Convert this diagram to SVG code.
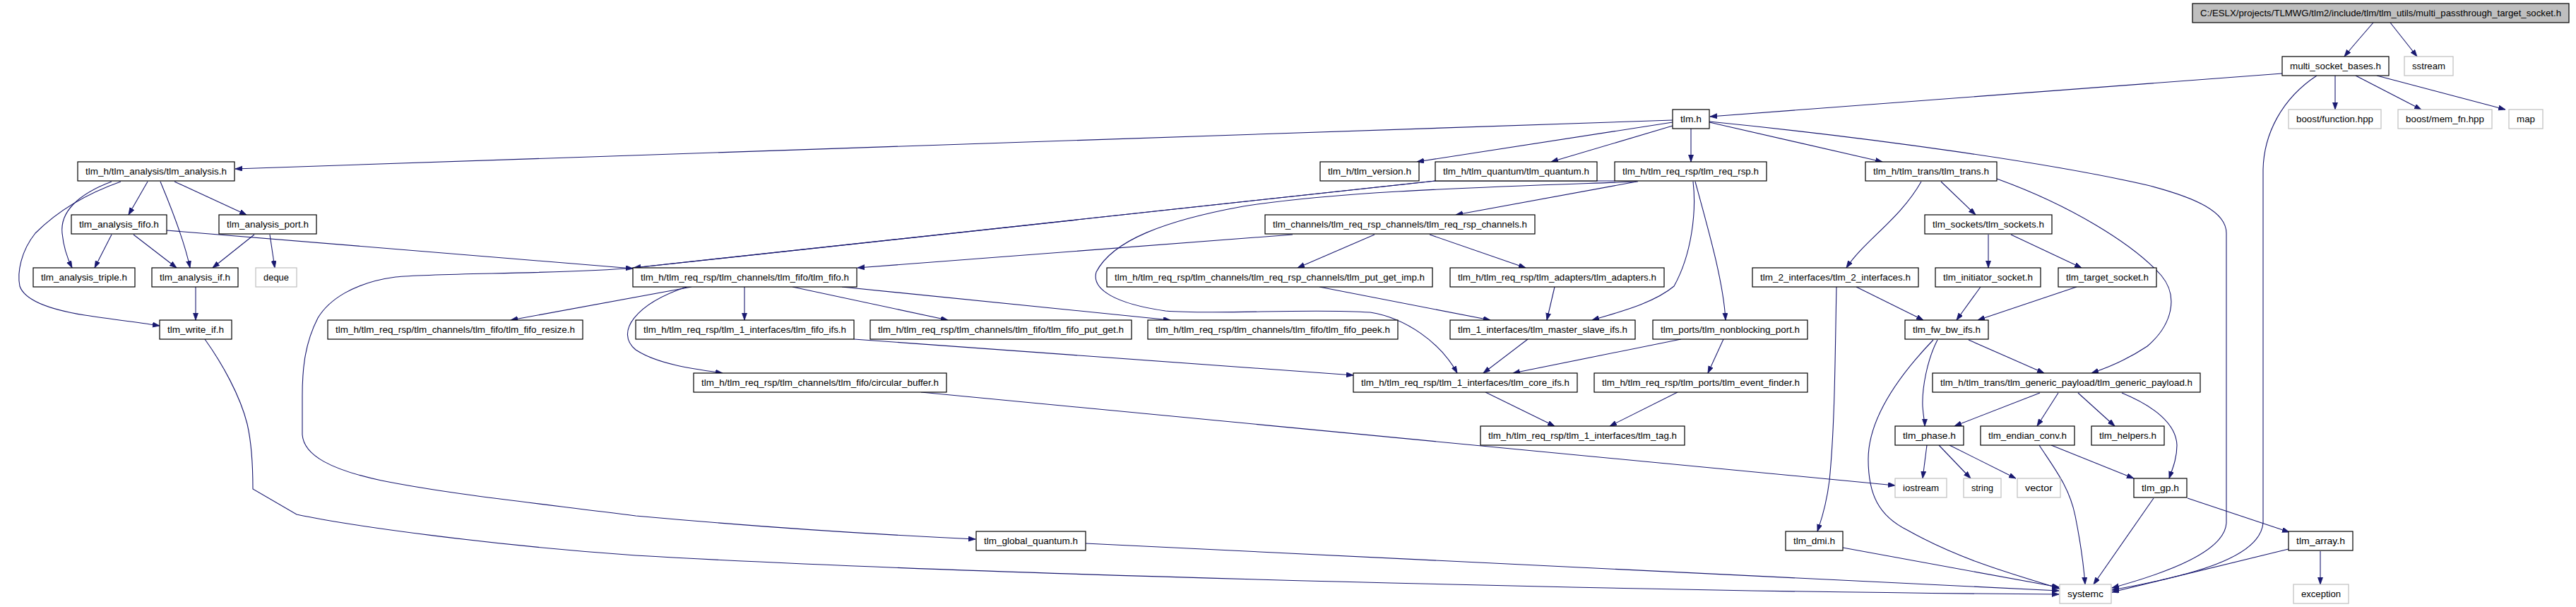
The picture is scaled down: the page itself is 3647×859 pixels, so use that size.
<svg xmlns="http://www.w3.org/2000/svg" width="3647" height="859" viewBox="0 0 3647 859">
<style>
.n rect{fill:#ffffff;stroke:#000000;stroke-width:1.2}
.g rect{fill:#ffffff;stroke:#bfbfbf;stroke-width:1.2}
.r rect{fill:#bfbfbf;stroke:#000000;stroke-width:1.2}
text{font-family:"Liberation Sans",Arial,Helvetica,sans-serif;font-size:13.5px;fill:#000000;text-anchor:middle}
#edges path{fill:none;stroke:#191970;stroke-width:1.1;marker-end:url(#ah)}
</style>
<defs>
<marker id="ah" markerUnits="userSpaceOnUse" markerWidth="11" markerHeight="8" refX="10" refY="3.5" orient="auto">
<path d="M0,0 L10,3.5 L0,7 z" fill="#191970" stroke="#191970" stroke-width="0.8"/>
</marker>
</defs>
<rect x="0" y="0" width="3647" height="859" fill="#ffffff"/>
<g id="edges">
<path d="M3360,32 C3348,46 3332,64 3319,80"/>
<path d="M3384,32 L3422,80"/>
<path d="M3231,104 L2421,165"/>
<path d="M3306,107 L3306,155"/>
<path d="M3335,107 L3428,155"/>
<path d="M3365,107 L3547,155"/>
<path d="M3280,107 C3230,140 3205,190 3204,240 L3204,740 C3200,790 3100,815 2990,835"/>
<path d="M2368,170 L333,239"/>
<path d="M2368,173 L2006,229"/>
<path d="M2368,178 L2196,229"/>
<path d="M2394,182 L2394,229"/>
<path d="M2420,173 L2665,229"/>
<path d="M2420,172 C2650,195 2900,230 3040,262 C3110,280 3152,300 3152,330 L3152,740 C3150,780 3070,810 2990,832"/>
<path d="M209,257 L182,304"/>
<path d="M227,257 C245,300 262,345 269,379"/>
<path d="M247,257 L349,304"/>
<path d="M158,257 C110,275 85,300 88,330 C90,350 95,365 102,379"/>
<path d="M171,257 C120,275 80,300 50,330 C30,355 24,385 28,405 C35,425 70,438 120,446 C160,452 200,457 226,461"/>
<path d="M158,332 L134,379"/>
<path d="M189,332 L250,379"/>
<path d="M236,326 L896,380"/>
<path d="M360,332 L301,379"/>
<path d="M382,332 L389,379"/>
<path d="M277,406 L277,453"/>
<path d="M2286,256 L2032,256 L897,379"/>
<path d="M2032,256 L897,379 C800,388 620,386 560,392 C500,400 465,425 450,450 C432,485 428,520 428,560 L428,615 C430,645 470,665 540,680 C640,700 760,712 900,730 C1100,748 1250,757 1381,763"/>
<path d="M2317,257 L2061,304"/>
<path d="M2319,257 C2100,265 1900,270 1760,292 C1650,312 1575,340 1552,385 C1545,410 1580,430 1650,440 C1720,446 1850,436 1940,442 C1990,450 2040,485 2063,528"/>
<path d="M2397,257 C2402,300 2395,360 2370,405 C2340,430 2290,442 2254,453"/>
<path d="M2400,257 C2420,330 2440,400 2443,453"/>
<path d="M1830,332 L1214,379"/>
<path d="M1946,332 L1837,379"/>
<path d="M2024,332 L2160,379"/>
<path d="M979,406 L723,453"/>
<path d="M1054,406 L1054,453"/>
<path d="M1122,406 L1342,453"/>
<path d="M1192,406 L1657,453"/>
<path d="M972,406 C900,430 870,470 900,495 C930,515 980,522 1023,528"/>
<path d="M1868,406 L2110,453"/>
<path d="M2201,406 L2190,453"/>
<path d="M1209,480 L1916,531"/>
<path d="M1304,555 L2683,687"/>
<path d="M2163,480 L2100,528"/>
<path d="M2380,480 L2142,528"/>
<path d="M2440,480 L2418,528"/>
<path d="M2103,555 L2201,603"/>
<path d="M2375,555 L2279,603"/>
<path d="M2720,257 C2690,310 2640,340 2614,379"/>
<path d="M2748,257 L2797,304"/>
<path d="M2827,253 C2930,290 3020,345 3060,390 C3085,420 3075,460 3040,490 C3010,510 2985,520 2961,528"/>
<path d="M2815,332 L2815,379"/>
<path d="M2847,332 L2947,379"/>
<path d="M2628,406 L2723,453"/>
<path d="M2600,406 C2598,500 2598,600 2590,680 C2585,720 2577,740 2573,752"/>
<path d="M2804,406 L2770,453"/>
<path d="M2940,406 L2800,453"/>
<path d="M2787,481 L2894,528"/>
<path d="M2743,481 C2728,510 2721,550 2722,575 C2723,590 2725,598 2725,603"/>
<path d="M2737,481 C2690,530 2645,590 2645,650 C2645,700 2660,730 2700,750 C2780,795 2860,815 2916,833"/>
<path d="M2888,556 L2767,603"/>
<path d="M2914,556 L2884,603"/>
<path d="M2942,556 L2994,603"/>
<path d="M3004,556 C3050,575 3081,600 3082,630 C3082,650 3075,665 3071,677"/>
<path d="M2728,630 L2722,677"/>
<path d="M2745,630 L2790,677"/>
<path d="M2760,630 L2854,677"/>
<path d="M2904,630 L3021,677"/>
<path d="M2887,630 C2910,665 2930,690 2938,730 C2946,770 2950,800 2952,827"/>
<path d="M3049,705 L2964,827"/>
<path d="M3097,705 L3241,753"/>
<path d="M3240,777 L2990,838"/>
<path d="M3285,780 L3285,827"/>
<path d="M2609,775 L2915,831"/>
<path d="M1537,769 L2915,836"/>
<path d="M290,480 C315,515 340,560 350,600 C357,630 358,660 358,692 L420,728 C500,745 700,772 900,786 C1400,815 2400,838 2915,841"/>
</g>
<g id="n_root" class="r"><rect x="3104" y="5" width="533" height="27"/><text x="3370.5" y="23" textLength="511" lengthAdjust="spacingAndGlyphs">C:/ESLX/projects/TLMWG/tlm2/include/tlm/tlm_utils/multi_passthrough_target_socket.h</text></g>
<g id="n_msb" class="n"><rect x="3231" y="80" width="151" height="27"/><text x="3306.5" y="98" textLength="129" lengthAdjust="spacingAndGlyphs">multi_socket_bases.h</text></g>
<g id="n_sstream" class="g"><rect x="3404" y="80" width="69" height="27"/><text x="3438.5" y="98" textLength="47" lengthAdjust="spacingAndGlyphs">sstream</text></g>
<g id="n_bfunc" class="g"><rect x="3240" y="155" width="131" height="27"/><text x="3305.5" y="173" textLength="109" lengthAdjust="spacingAndGlyphs">boost/function.hpp</text></g>
<g id="n_bmem" class="g"><rect x="3395" y="155" width="133" height="27"/><text x="3461.5" y="173" textLength="111" lengthAdjust="spacingAndGlyphs">boost/mem_fn.hpp</text></g>
<g id="n_map" class="g"><rect x="3552" y="155" width="48" height="27"/><text x="3576" y="173" textLength="26" lengthAdjust="spacingAndGlyphs">map</text></g>
<g id="n_tlm" class="n"><rect x="2368" y="155" width="52" height="27"/><text x="2394" y="173" textLength="30" lengthAdjust="spacingAndGlyphs">tlm.h</text></g>
<g id="n_ana" class="n"><rect x="110" y="229" width="222" height="27"/><text x="221" y="247" textLength="200" lengthAdjust="spacingAndGlyphs">tlm_h/tlm_analysis/tlm_analysis.h</text></g>
<g id="n_ver" class="n"><rect x="1869" y="229" width="140" height="27"/><text x="1939" y="247" textLength="118" lengthAdjust="spacingAndGlyphs">tlm_h/tlm_version.h</text></g>
<g id="n_qua" class="n"><rect x="2032" y="229" width="229" height="27"/><text x="2146.5" y="247" textLength="207" lengthAdjust="spacingAndGlyphs">tlm_h/tlm_quantum/tlm_quantum.h</text></g>
<g id="n_rr" class="n"><rect x="2286" y="229" width="215" height="27"/><text x="2393.5" y="247" textLength="193" lengthAdjust="spacingAndGlyphs">tlm_h/tlm_req_rsp/tlm_req_rsp.h</text></g>
<g id="n_trans" class="n"><rect x="2641" y="229" width="186" height="27"/><text x="2734" y="247" textLength="164" lengthAdjust="spacingAndGlyphs">tlm_h/tlm_trans/tlm_trans.h</text></g>
<g id="n_afifo" class="n"><rect x="101" y="304" width="135" height="27"/><text x="168.5" y="322" textLength="113" lengthAdjust="spacingAndGlyphs">tlm_analysis_fifo.h</text></g>
<g id="n_aport" class="n"><rect x="310" y="304" width="138" height="27"/><text x="379" y="322" textLength="116" lengthAdjust="spacingAndGlyphs">tlm_analysis_port.h</text></g>
<g id="n_rrch" class="n"><rect x="1791" y="304" width="382" height="27"/><text x="1982" y="322" textLength="360" lengthAdjust="spacingAndGlyphs">tlm_channels/tlm_req_rsp_channels/tlm_req_rsp_channels.h</text></g>
<g id="n_sock" class="n"><rect x="2725" y="304" width="180" height="27"/><text x="2815" y="322" textLength="158" lengthAdjust="spacingAndGlyphs">tlm_sockets/tlm_sockets.h</text></g>
<g id="n_atrip" class="n"><rect x="47" y="379" width="144" height="27"/><text x="119" y="397" textLength="122" lengthAdjust="spacingAndGlyphs">tlm_analysis_triple.h</text></g>
<g id="n_aif" class="n"><rect x="215" y="379" width="122" height="27"/><text x="276" y="397" textLength="100" lengthAdjust="spacingAndGlyphs">tlm_analysis_if.h</text></g>
<g id="n_deque" class="g"><rect x="362" y="379" width="58" height="27"/><text x="391" y="397" textLength="36" lengthAdjust="spacingAndGlyphs">deque</text></g>
<g id="n_fifo" class="n"><rect x="896" y="379" width="317" height="27"/><text x="1054.5" y="397" textLength="295" lengthAdjust="spacingAndGlyphs">tlm_h/tlm_req_rsp/tlm_channels/tlm_fifo/tlm_fifo.h</text></g>
<g id="n_pgi" class="n"><rect x="1567" y="379" width="461" height="27"/><text x="1797.5" y="397" textLength="439" lengthAdjust="spacingAndGlyphs">tlm_h/tlm_req_rsp/tlm_channels/tlm_req_rsp_channels/tlm_put_get_imp.h</text></g>
<g id="n_adapt" class="n"><rect x="2053" y="379" width="303" height="27"/><text x="2204.5" y="397" textLength="281" lengthAdjust="spacingAndGlyphs">tlm_h/tlm_req_rsp/tlm_adapters/tlm_adapters.h</text></g>
<g id="n_t2i" class="n"><rect x="2481" y="379" width="235" height="27"/><text x="2598.5" y="397" textLength="213" lengthAdjust="spacingAndGlyphs">tlm_2_interfaces/tlm_2_interfaces.h</text></g>
<g id="n_isock" class="n"><rect x="2740" y="379" width="149" height="27"/><text x="2814.5" y="397" textLength="127" lengthAdjust="spacingAndGlyphs">tlm_initiator_socket.h</text></g>
<g id="n_tsock" class="n"><rect x="2914" y="379" width="139" height="27"/><text x="2983.5" y="397" textLength="117" lengthAdjust="spacingAndGlyphs">tlm_target_socket.h</text></g>
<g id="n_wif" class="n"><rect x="226" y="453" width="102" height="27"/><text x="277" y="471" textLength="80" lengthAdjust="spacingAndGlyphs">tlm_write_if.h</text></g>
<g id="n_fresize" class="n"><rect x="464" y="453" width="361" height="27"/><text x="644.5" y="471" textLength="339" lengthAdjust="spacingAndGlyphs">tlm_h/tlm_req_rsp/tlm_channels/tlm_fifo/tlm_fifo_resize.h</text></g>
<g id="n_fifs" class="n"><rect x="900" y="453" width="309" height="27"/><text x="1054.5" y="471" textLength="287" lengthAdjust="spacingAndGlyphs">tlm_h/tlm_req_rsp/tlm_1_interfaces/tlm_fifo_ifs.h</text></g>
<g id="n_fpg" class="n"><rect x="1232" y="453" width="370" height="27"/><text x="1417" y="471" textLength="348" lengthAdjust="spacingAndGlyphs">tlm_h/tlm_req_rsp/tlm_channels/tlm_fifo/tlm_fifo_put_get.h</text></g>
<g id="n_fpeek" class="n"><rect x="1625" y="453" width="354" height="27"/><text x="1802" y="471" textLength="332" lengthAdjust="spacingAndGlyphs">tlm_h/tlm_req_rsp/tlm_channels/tlm_fifo/tlm_fifo_peek.h</text></g>
<g id="n_msifs" class="n"><rect x="2053" y="453" width="262" height="27"/><text x="2184" y="471" textLength="240" lengthAdjust="spacingAndGlyphs">tlm_1_interfaces/tlm_master_slave_ifs.h</text></g>
<g id="n_nbport" class="n"><rect x="2340" y="453" width="219" height="27"/><text x="2449.5" y="471" textLength="197" lengthAdjust="spacingAndGlyphs">tlm_ports/tlm_nonblocking_port.h</text></g>
<g id="n_fwbw" class="n"><rect x="2697" y="453" width="118" height="27"/><text x="2756" y="471" textLength="96" lengthAdjust="spacingAndGlyphs">tlm_fw_bw_ifs.h</text></g>
<g id="n_cbuf" class="n"><rect x="982" y="528" width="358" height="27"/><text x="1161" y="546" textLength="336" lengthAdjust="spacingAndGlyphs">tlm_h/tlm_req_rsp/tlm_channels/tlm_fifo/circular_buffer.h</text></g>
<g id="n_core" class="n"><rect x="1916" y="528" width="317" height="27"/><text x="2074.5" y="546" textLength="295" lengthAdjust="spacingAndGlyphs">tlm_h/tlm_req_rsp/tlm_1_interfaces/tlm_core_ifs.h</text></g>
<g id="n_evf" class="n"><rect x="2257" y="528" width="302" height="27"/><text x="2408" y="546" textLength="280" lengthAdjust="spacingAndGlyphs">tlm_h/tlm_req_rsp/tlm_ports/tlm_event_finder.h</text></g>
<g id="n_gpp" class="n"><rect x="2736" y="528" width="379" height="27"/><text x="2925.5" y="546" textLength="357" lengthAdjust="spacingAndGlyphs">tlm_h/tlm_trans/tlm_generic_payload/tlm_generic_payload.h</text></g>
<g id="n_tag" class="n"><rect x="2096" y="603" width="289" height="27"/><text x="2240.5" y="621" textLength="267" lengthAdjust="spacingAndGlyphs">tlm_h/tlm_req_rsp/tlm_1_interfaces/tlm_tag.h</text></g>
<g id="n_phase" class="n"><rect x="2683" y="603" width="97" height="27"/><text x="2731.5" y="621" textLength="75" lengthAdjust="spacingAndGlyphs">tlm_phase.h</text></g>
<g id="n_endian" class="n"><rect x="2804" y="603" width="133" height="27"/><text x="2870.5" y="621" textLength="111" lengthAdjust="spacingAndGlyphs">tlm_endian_conv.h</text></g>
<g id="n_helpers" class="n"><rect x="2961" y="603" width="103" height="27"/><text x="3012.5" y="621" textLength="81" lengthAdjust="spacingAndGlyphs">tlm_helpers.h</text></g>
<g id="n_iostream" class="g"><rect x="2683" y="677" width="73" height="27"/><text x="2719.5" y="695" textLength="51" lengthAdjust="spacingAndGlyphs">iostream</text></g>
<g id="n_string" class="g"><rect x="2780" y="677" width="53" height="27"/><text x="2806.5" y="695" textLength="31" lengthAdjust="spacingAndGlyphs">string</text></g>
<g id="n_vector" class="g"><rect x="2856" y="677" width="61" height="27"/><text x="2886.5" y="695" textLength="39" lengthAdjust="spacingAndGlyphs">vector</text></g>
<g id="n_gp" class="n"><rect x="3021" y="677" width="75" height="27"/><text x="3058.5" y="695" textLength="53" lengthAdjust="spacingAndGlyphs">tlm_gp.h</text></g>
<g id="n_gq" class="n"><rect x="1382" y="752" width="155" height="27"/><text x="1459.5" y="770" textLength="133" lengthAdjust="spacingAndGlyphs">tlm_global_quantum.h</text></g>
<g id="n_dmi" class="n"><rect x="2528" y="752" width="81" height="27"/><text x="2568.5" y="770" textLength="59" lengthAdjust="spacingAndGlyphs">tlm_dmi.h</text></g>
<g id="n_array" class="n"><rect x="3240" y="752" width="91" height="27"/><text x="3285.5" y="770" textLength="69" lengthAdjust="spacingAndGlyphs">tlm_array.h</text></g>
<g id="n_systemc" class="g"><rect x="2916" y="827" width="73" height="27"/><text x="2952.5" y="845" textLength="51" lengthAdjust="spacingAndGlyphs">systemc</text></g>
<g id="n_exc" class="g"><rect x="3247" y="827" width="78" height="27"/><text x="3286" y="845" textLength="56" lengthAdjust="spacingAndGlyphs">exception</text></g>
</svg>
